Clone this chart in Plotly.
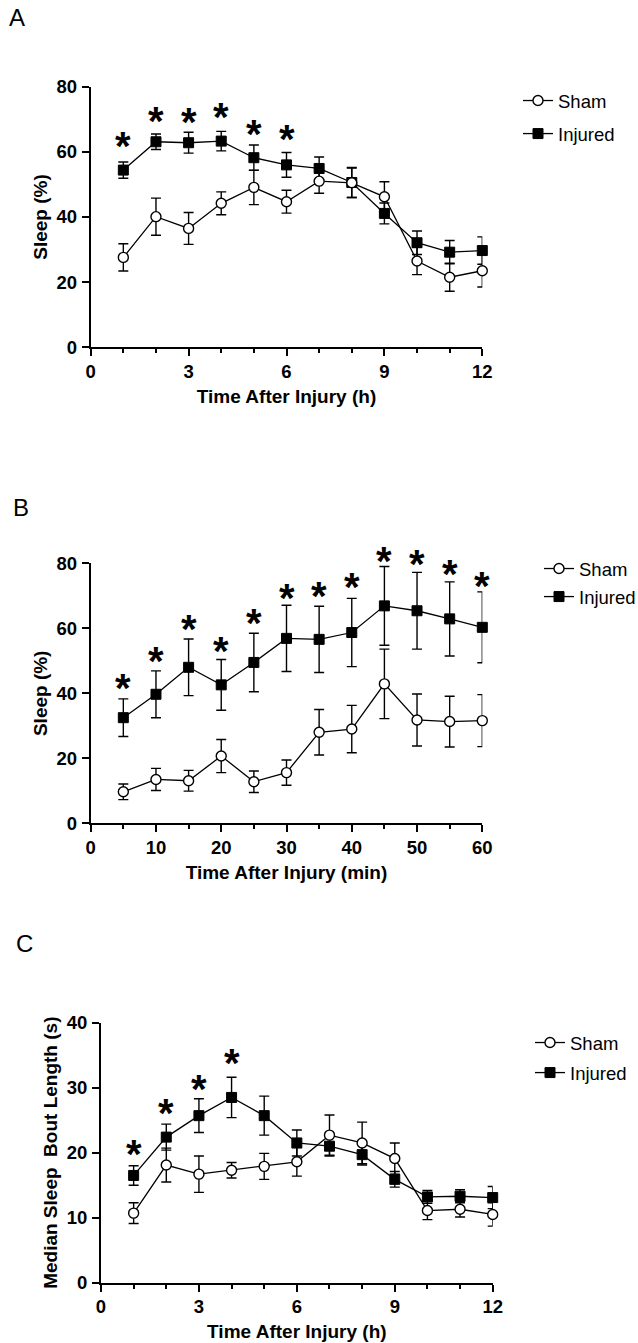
import plotly.graph_objects as go

# ---------------- data ----------------
# Panel A (hours)
a_x = [1, 2, 3, 4, 5, 6, 7, 8, 9, 10, 11, 12]
a_sham = [27.6, 40.1, 36.5, 44.2, 49.1, 44.7, 51.0, 50.5, 46.2, 26.5, 21.5, 23.5]
a_sham_err = [4.2, 5.7, 4.9, 3.5, 5.3, 3.5, 3.7, 4.5, 4.6, 4.2, 4.3, 5.0]
a_inj = [54.4, 63.1, 62.8, 63.3, 58.2, 56.0, 54.9, 50.6, 41.1, 32.1, 29.2, 29.7]
a_inj_err = [2.5, 2.4, 3.2, 3.0, 3.9, 3.8, 3.5, 4.6, 3.2, 3.6, 3.6, 4.2]
a_star_x = [1, 2, 3, 4, 5, 6]
a_star_y = [63.1, 70.8, 70.3, 71.8, 66.7, 65.2]

# Panel B (minutes)
b_x = [5, 10, 15, 20, 25, 30, 35, 40, 45, 50, 55, 60]
b_sham = [9.7, 13.5, 13.1, 20.7, 12.8, 15.6, 28.0, 29.0, 42.9, 31.8, 31.3, 31.6]
b_sham_err = [2.4, 3.4, 3.2, 5.1, 3.3, 3.9, 7.0, 7.3, 10.7, 8.0, 7.8, 8.0]
b_inj = [32.5, 39.7, 48.0, 42.6, 49.5, 56.9, 56.6, 58.7, 66.9, 65.4, 62.9, 60.3]
b_inj_err = [5.8, 7.2, 8.7, 7.8, 9.0, 10.2, 10.2, 10.5, 12.1, 11.8, 11.4, 10.9]
b_star_x = [5, 10, 15, 20, 25, 30, 35, 40, 45, 50, 55, 60]
b_star_y = [42.9, 51.3, 61.0, 54.4, 62.8, 70.6, 71.3, 73.8, 81.8, 81.0, 77.9, 74.4]

# Panel C (hours)
c_x = [1, 2, 3, 4, 5, 6, 7, 8, 9, 10, 11, 12]
c_sham = [10.7, 18.1, 16.7, 17.3, 17.9, 18.6, 22.7, 21.5, 19.1, 11.1, 11.3, 10.5]
c_sham_err = [1.6, 2.6, 2.8, 1.2, 2.0, 2.2, 3.1, 3.2, 2.4, 1.4, 1.2, 1.8]
c_inj = [16.5, 22.4, 25.7, 28.5, 25.7, 21.5, 21.0, 19.7, 15.9, 13.2, 13.3, 13.1]
c_inj_err = [1.5, 2.0, 2.6, 3.1, 3.0, 2.0, 1.5, 1.6, 1.2, 1.0, 1.0, 1.7]
c_star_x = [1, 2, 3, 4]
c_star_y = [20.4, 26.8, 30.4, 34.4]

panel_labels = ["A", "B", "C"]
x_titles = ["Time After Injury (h)", "Time After Injury (min)", "Time After Injury (h)"]
y_titles = ["Sleep (%)", "Sleep (%)", "Median Sleep  Bout Length (s)"]

# ---------------- figure ----------------
W, H = 638, 1343
FONT = "Liberation Sans, Arial, sans-serif"

fig = go.Figure()

panels = [
    (a_x, a_sham, a_sham_err, a_inj, a_inj_err, a_star_x, a_star_y),
    (b_x, b_sham, b_sham_err, b_inj, b_inj_err, b_star_x, b_star_y),
    (c_x, c_sham, c_sham_err, c_inj, c_inj_err, c_star_x, c_star_y),
]

# pixel layout helpers
def px_x(a, b):
    return [a / W, b / W]

def px_y(top, bottom):
    return [(H - bottom) / H, (H - top) / H]

layouts = [
    dict(xd=px_x(90.7, 482.3), yd=px_y(86.7, 347.3), xr=[0, 12], xdt=3, xminor=1, yr=[0, 80], ydt=20),
    dict(xd=px_x(90.7, 482.3), yd=px_y(563.3, 823.3), xr=[0, 60], xdt=10, xminor=5, yr=[0, 80], ydt=20),
    dict(xd=px_x(101, 492.7), yd=px_y(1022.7, 1282.7), xr=[0, 12], xdt=3, xminor=1, yr=[0, 40], ydt=10),
]

legend_names = ["legend", "legend2", "legend3"]

for i, (x, sh, she, inj, inje, sx, sy) in enumerate(panels):
    xa = "x" if i == 0 else f"x{i+1}"
    ya = "y" if i == 0 else f"y{i+1}"
    leg = legend_names[i]
    fig.add_trace(go.Scatter(
        x=x, y=inj, name="Injured", mode="lines+markers",
        xaxis=xa, yaxis=ya, legend=leg, legendrank=2, legendgroup=f"inj{i}",
        line=dict(color="black", width=1.3),
        marker=dict(symbol="square", size=10, color="black",
                    line=dict(color="black", width=1)),
        error_y=dict(type="data", array=inje, visible=True, color="black",
                     thickness=1.4, width=5),
        cliponaxis=False,
    ))
    fig.add_trace(go.Scatter(
        x=x, y=sh, name="Sham", mode="lines+markers",
        xaxis=xa, yaxis=ya, legend=leg, legendrank=1, legendgroup=f"sham{i}",
        line=dict(color="black", width=1.3),
        marker=dict(symbol="circle", size=10, color="white",
                    line=dict(color="black", width=1.4)),
        error_y=dict(type="data", array=she, visible=True, color="black",
                     thickness=1.4, width=5),
        cliponaxis=False,
    ))
    # significance asterisks: x in data units, y as a fraction of the y-axis range
    y0, y1 = layouts[i]["yr"]
    for xx, yy in zip(sx, sy):
        fig.add_annotation(x=xx, xref=xa, y=(yy - y0) / (y1 - y0), yref=f"{ya} domain",
                           xanchor="center", yanchor="middle",
                           text="*", showarrow=False, yshift=-4,
                           font=dict(family=FONT, size=40, color="black", weight="bold"))

axis_common = dict(
    showgrid=False, zeroline=False, showline=True, linecolor="black", linewidth=2,
    ticks="outside", tickcolor="black", tickwidth=2, ticklen=7,
    tickfont=dict(family=FONT, size=18.5, color="black", weight="bold"),
    mirror=False, automargin=False,
)

title_font = dict(family=FONT, size=19, color="black", weight="bold")

for i, L in enumerate(layouts):
    xk = "xaxis" if i == 0 else f"xaxis{i+1}"
    yk = "yaxis" if i == 0 else f"yaxis{i+1}"
    ya = "y" if i == 0 else f"y{i+1}"
    xa = "x" if i == 0 else f"x{i+1}"
    fig.update_layout(**{
        xk: dict(axis_common, domain=L["xd"], range=L["xr"], dtick=L["xdt"], tick0=0,
                 anchor=ya,
                 minor=dict(dtick=L["xminor"], tick0=0, ticks="outside", ticklen=4,
                            tickcolor="black", tickwidth=2),
                 ticklabelstandoff=-1,
                 title=dict(text=x_titles[i], font=title_font, standoff=9)),
        yk: dict(axis_common, domain=L["yd"], range=L["yr"], dtick=L["ydt"], tick0=0,
                 anchor=xa, ticklabelstandoff=1,
                 title=dict(text=y_titles[i], font=title_font, standoff=4)),
    })

legend_common = dict(
    xanchor="left", yanchor="top", bgcolor="rgba(0,0,0,0)",
    font=dict(family=FONT, size=18.5, color="black"),
    itemclick=False, itemdoubleclick=False,
)
fig.update_layout(
    legend=dict(legend_common, x=518 / W, y=1 - 82 / H, tracegroupgap=6),
    legend2=dict(legend_common, x=539 / W, y=1 - 550 / H, tracegroupgap=1),
    legend3=dict(legend_common, x=530 / W, y=1 - 1024 / H, tracegroupgap=3),
)

label_pos = [(16.7, 18), (21, 507.5), (24.7, 943.7)]
for lab, (lx, ly) in zip(panel_labels, label_pos):
    fig.add_annotation(x=lx / W, y=1 - ly / H, xref="paper", yref="paper",
                       text=lab, showarrow=False, xanchor="center", yanchor="middle",
                       font=dict(family=FONT, size=24, color="black"))

fig.update_layout(
    width=W, height=H, margin=dict(l=0, r=0, t=0, b=0, autoexpand=False),
    paper_bgcolor="white", plot_bgcolor="white",
    font=dict(family=FONT, color="black"),
)

fig.write_html("out.html", config={"displayModeBar": False},
               post_script="document.body.style.margin='0';")
